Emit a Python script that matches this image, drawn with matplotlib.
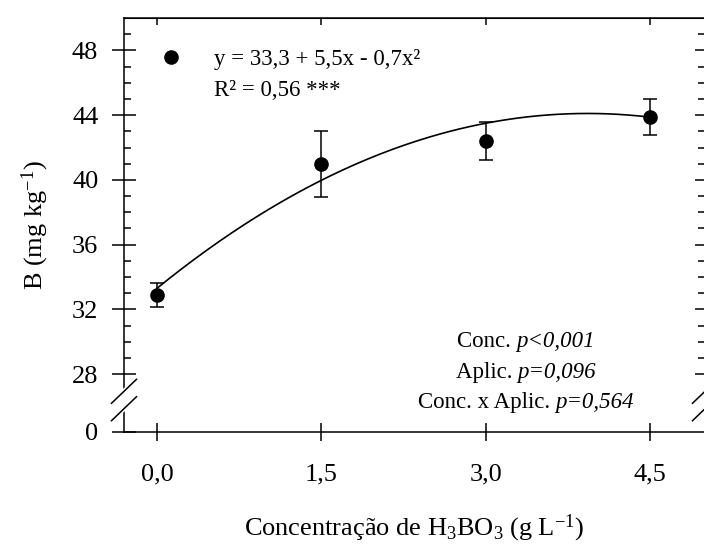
import numpy as np
import matplotlib
matplotlib.use("Agg")
import matplotlib.pyplot as plt
from matplotlib.lines import Line2D
from matplotlib.patches import Polygon
from matplotlib.offsetbox import TextArea, HPacker, VPacker, AnchoredOffsetbox

plt.rcParams["font.family"] = "Liberation Serif"
plt.rcParams["mathtext.fontset"] = "custom"
plt.rcParams["mathtext.rm"] = "Liberation Serif"
plt.rcParams["mathtext.it"] = "Liberation Serif:italic"

# dados: concentracao de H3BO3 e teor de B
conc = [0.0, 1.5, 3.0, 4.5]
boro = [32.9, 41.0, 42.4, 43.9]
erro = [0.72, 2.05, 1.15, 1.1]

# coeficientes da regressao quadratica
b0, b1, b2 = 33.3, 5.5, -0.7
eq_txt = "y = 33,3 + 5,5x - 0,7x²"
r2_txt = "R² = 0,56 ***"

xtick_lbl = ["0,0", "1,5", "3,0", "4,5"]
ytick_val = [28, 32, 36, 40, 44, 48]
y_quebra = 24.43  # posicao do zero abaixo da quebra

stats = [("Conc. ", "p<0,001"), ("Aplic. ", "p=0,096"), ("Conc. x Aplic. ", "p=0,564")]

fs_tick = 19
fs_lab = 19
fs_txt = 16.5

fig = plt.figure(figsize=(7.04, 5.46), dpi=100)
ax = fig.add_axes([124 / 704, 114 / 546, 581 / 704, 414 / 546])

xs = np.linspace(conc[0], conc[-1], 200)
ax.plot(xs, np.polyval([b2, b1, b0], xs), color="black", lw=1.2, zorder=2)
ax.errorbar(conc, boro, yerr=erro, fmt="o", color="black", ms=9.5,
            capsize=4.8, elinewidth=1.1, capthick=1.1, zorder=3)

ax.set_xlim(-0.3, 5.0)
ax.set_ylim(y_quebra, 50)

ax.set_xticks(conc)
ax.set_xticklabels(xtick_lbl)
ax.set_yticks([y_quebra] + ytick_val)
ax.set_yticklabels(["0"] + [str(v) for v in ytick_val])
ax.set_yticks([v for v in range(29, 50) if v % 4 != 0], minor=True)

ax.tick_params(axis="both", which="major", labelsize=fs_tick, width=1.1)
ax.tick_params(axis="x", direction="inout", length=13, pad=16, top=False)
ax.tick_params(axis="y", which="major", direction="inout", length=17, pad=10, right=False)
ax.tick_params(axis="y", which="minor", direction="in", length=5, width=1.1, right=False)
for s in ax.spines.values():
    s.set_linewidth(1.1)

# eixos secundarios so com marcas
top = ax.secondary_xaxis("top")
top.set_xticks(conc)
top.tick_params(direction="in", length=5, width=1.1, labeltop=False)
right = ax.secondary_yaxis("right")
right.set_yticks(ytick_val)
right.set_yticks([v for v in range(29, 50) if v % 4 != 0], minor=True)
right.tick_params(which="major", direction="in", length=7, width=1.1, labelright=False)
right.tick_params(which="minor", direction="in", length=5, width=1.1)

ax.set_xlabel(r"Concentração de H$_3$BO$_3$ (g L$^{-1}$)", fontsize=fs_lab, labelpad=20)
ax.set_ylabel(r"B (mg kg$^{-1}$)", fontsize=fs_lab, labelpad=15)

# quebra do eixo y
dx, dy = 12.5 / 581, 12 / 414
y1, y2 = (432 - 391.3) / 414, (432 - 408.7) / 414
for xb in (0.0, 1.0):
    gap = Polygon([[xb - dx, y2 + dy], [xb + dx, y1 + dy], [xb + dx, y1 - dy], [xb - dx, y2 - dy]],
                  closed=True, transform=ax.transAxes, facecolor="white", edgecolor="none",
                  clip_on=False, zorder=4)
    ax.add_patch(gap)
    for yb in (y1, y2):
        ax.plot([xb - dx, xb + dx], [yb - dy, yb + dy], color="black", lw=1.1,
                transform=ax.transAxes, clip_on=False, zorder=5)

ponto = Line2D([], [], ls="none", marker="o", color="black", ms=9.5)
ax.legend([ponto, Line2D([], [], ls="none")], [eq_txt, r2_txt], loc="upper left",
          frameon=False, fontsize=fs_txt, handletextpad=1.1, handlelength=1.5,
          borderaxespad=0, borderpad=0, labelspacing=0.45,
          bbox_to_anchor=(30 / 581, 1 - 31 / 414))

linhas = []
for normal, ital in stats:
    linhas.append(HPacker(children=[TextArea(normal, textprops=dict(size=fs_txt)),
                                    TextArea(ital, textprops=dict(size=fs_txt, style="italic"))],
                          align="baseline", pad=0, sep=0))
caixa = VPacker(children=linhas, align="center", pad=0, sep=7)
anc = AnchoredOffsetbox(loc="lower center", child=caixa, frameon=False,
                        bbox_to_anchor=(526 / 704, 127 / 546), bbox_transform=fig.transFigure,
                        borderpad=0)
ax.add_artist(anc)

fig.savefig("out.png", dpi=100)
